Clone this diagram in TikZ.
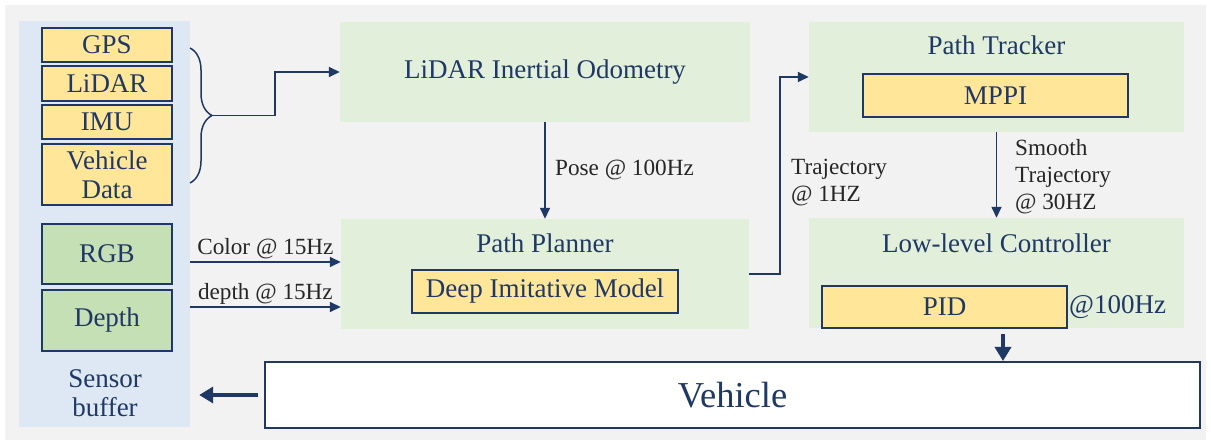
\documentclass[tikz,border=0pt]{standalone}
\usepackage{fontspec}
\setmainfont{Liberation Serif}
\usetikzlibrary{arrows.meta,decorations.pathreplacing}

\definecolor{navy}{HTML}{1F3864}
\definecolor{bgGray}{HTML}{F2F2F2}
\definecolor{panelGreen}{HTML}{E2EFDA}
\definecolor{boxYellow}{HTML}{FFE699}
\definecolor{boxGreen}{HTML}{C5E0B4}
\definecolor{bufBlue}{HTML}{DEE8F4}

\begin{document}
\begin{tikzpicture}[
    x=1pt, y=-1pt,
    panel/.style={fill=panelGreen, inner sep=0pt},
    title/.style={text=navy, font=\fontsize{27}{29}\selectfont},
    ybox/.style={draw=navy, line width=2pt, fill=boxYellow, text=navy, inner sep=0pt,
                 align=center, font=\fontsize{27}{29}\selectfont},
    gbox/.style={ybox, fill=boxGreen},
    lbl/.style={text=black!85, font=\fontsize{23.2}{27}\selectfont, inner sep=2pt},
    arrow/.style={-{Triangle[length=11pt,width=10pt]}, navy, line width=1.5pt},
    bigarrow/.style={-{Triangle[length=14pt,width=16pt]}, navy, line width=4.5pt}
]

\fill[white] (0,0) rectangle (1211,443);
\fill[bgGray] (5,5) rectangle (1206,440);

% sensor buffer column
\node[fill=bufBlue, minimum width=171pt, minimum height=406pt, inner sep=0pt] (buf) at (104.5,224) {};
\node[ybox, minimum width=130pt, minimum height=34pt] (gps) at (107,45) {GPS};
\node[ybox, minimum width=130pt, minimum height=35pt] (lidar) at (107,83.5) {LiDAR};
\node[ybox, minimum width=130pt, minimum height=34pt] (imu) at (107,122) {IMU};
\node[ybox, minimum width=130pt, minimum height=61pt] (vdata) at (107,174.5) {Vehicle\\Data};
\node[gbox, minimum width=130pt, minimum height=60pt] (rgb) at (107,254) {RGB};
\node[gbox, minimum width=130pt, minimum height=61pt] (depth) at (107,320.5) {Depth};
\node[title, align=center] (bufText) at (105,393) {Sensor\\buffer};

% modules
\node[panel, minimum width=410pt, minimum height=100pt] (lio) at (545,72) {};
\node[title] (lioText) at (545,72) {LiDAR Inertial Odometry};

\node[panel, minimum width=408pt, minimum height=110pt] (pp) at (545,274) {};
\node[title] (ppText) at (545,243) {Path Planner};
\node[ybox, minimum width=266pt, minimum height=43pt] (dim) at (545,291.5) {Deep Imitative Model};

\node[panel, minimum width=375pt, minimum height=110pt] (pt) at (996.5,77) {};
\node[title] (ptText) at (996.5,45) {Path Tracker};
\node[ybox, minimum width=265pt, minimum height=43pt] (mppi) at (995.5,95.5) {MPPI};

\node[panel, minimum width=375pt, minimum height=110pt] (llc) at (996.5,273) {};
\node[title] (llcText) at (996.5,243) {Low-level Controller};
\node[ybox, minimum width=245pt, minimum height=42pt] (pid) at (944.5,307) {PID};
\node[title, anchor=west, inner sep=1pt] (pidRate) at (pid.east) {@100Hz};

\node[draw=navy, line width=2pt, fill=white, minimum width=935pt, minimum height=66pt,
      text=navy, font=\fontsize{36.5}{40}\selectfont] (veh) at (732.5,395) {Vehicle};

% brace and connectors
\draw[navy, line width=1.5pt, decorate, decoration={brace, amplitude=22pt}] (190,48) -- (190,183);
\coordinate (braceTip) at (212,115.5);
\draw[arrow] (braceTip) -- ++(63,0) |- (lio.west);

\coordinate (colorIn) at (190,262);
\coordinate (depthIn) at (190,307);
\draw[arrow] (colorIn) -- (colorIn -| pp.west) node[lbl, midway, above] {Color @ 15Hz};
\draw[arrow] (depthIn) -- (depthIn -| pp.west) node[lbl, midway, above] {depth @ 15Hz};

\draw[arrow] (lio.south) -- (pp.north);
\node[lbl, anchor=west] (poseLbl) at (553,170) {Pose @ 100Hz};

\draw[arrow] (pp.east) -- ++(31,0) |- (pt.west);
\node[lbl, anchor=west, align=left] (trajLbl) at (789,183) {Trajectory\\@ 1HZ};

\draw[arrow] (pt.south) -- (llc.north);
\node[lbl, anchor=west, align=left] (smoothLbl) at (1013,177) {Smooth\\Trajectory\\@ 30HZ};

\coordinate (pidOut) at (1003,334);
\draw[bigarrow] (pidOut) -- (pidOut |- veh.north);
\draw[bigarrow, shorten <=6pt, shorten >=9pt] (veh.west) -- (buf.east |- veh.west);

\end{tikzpicture}
\end{document}
